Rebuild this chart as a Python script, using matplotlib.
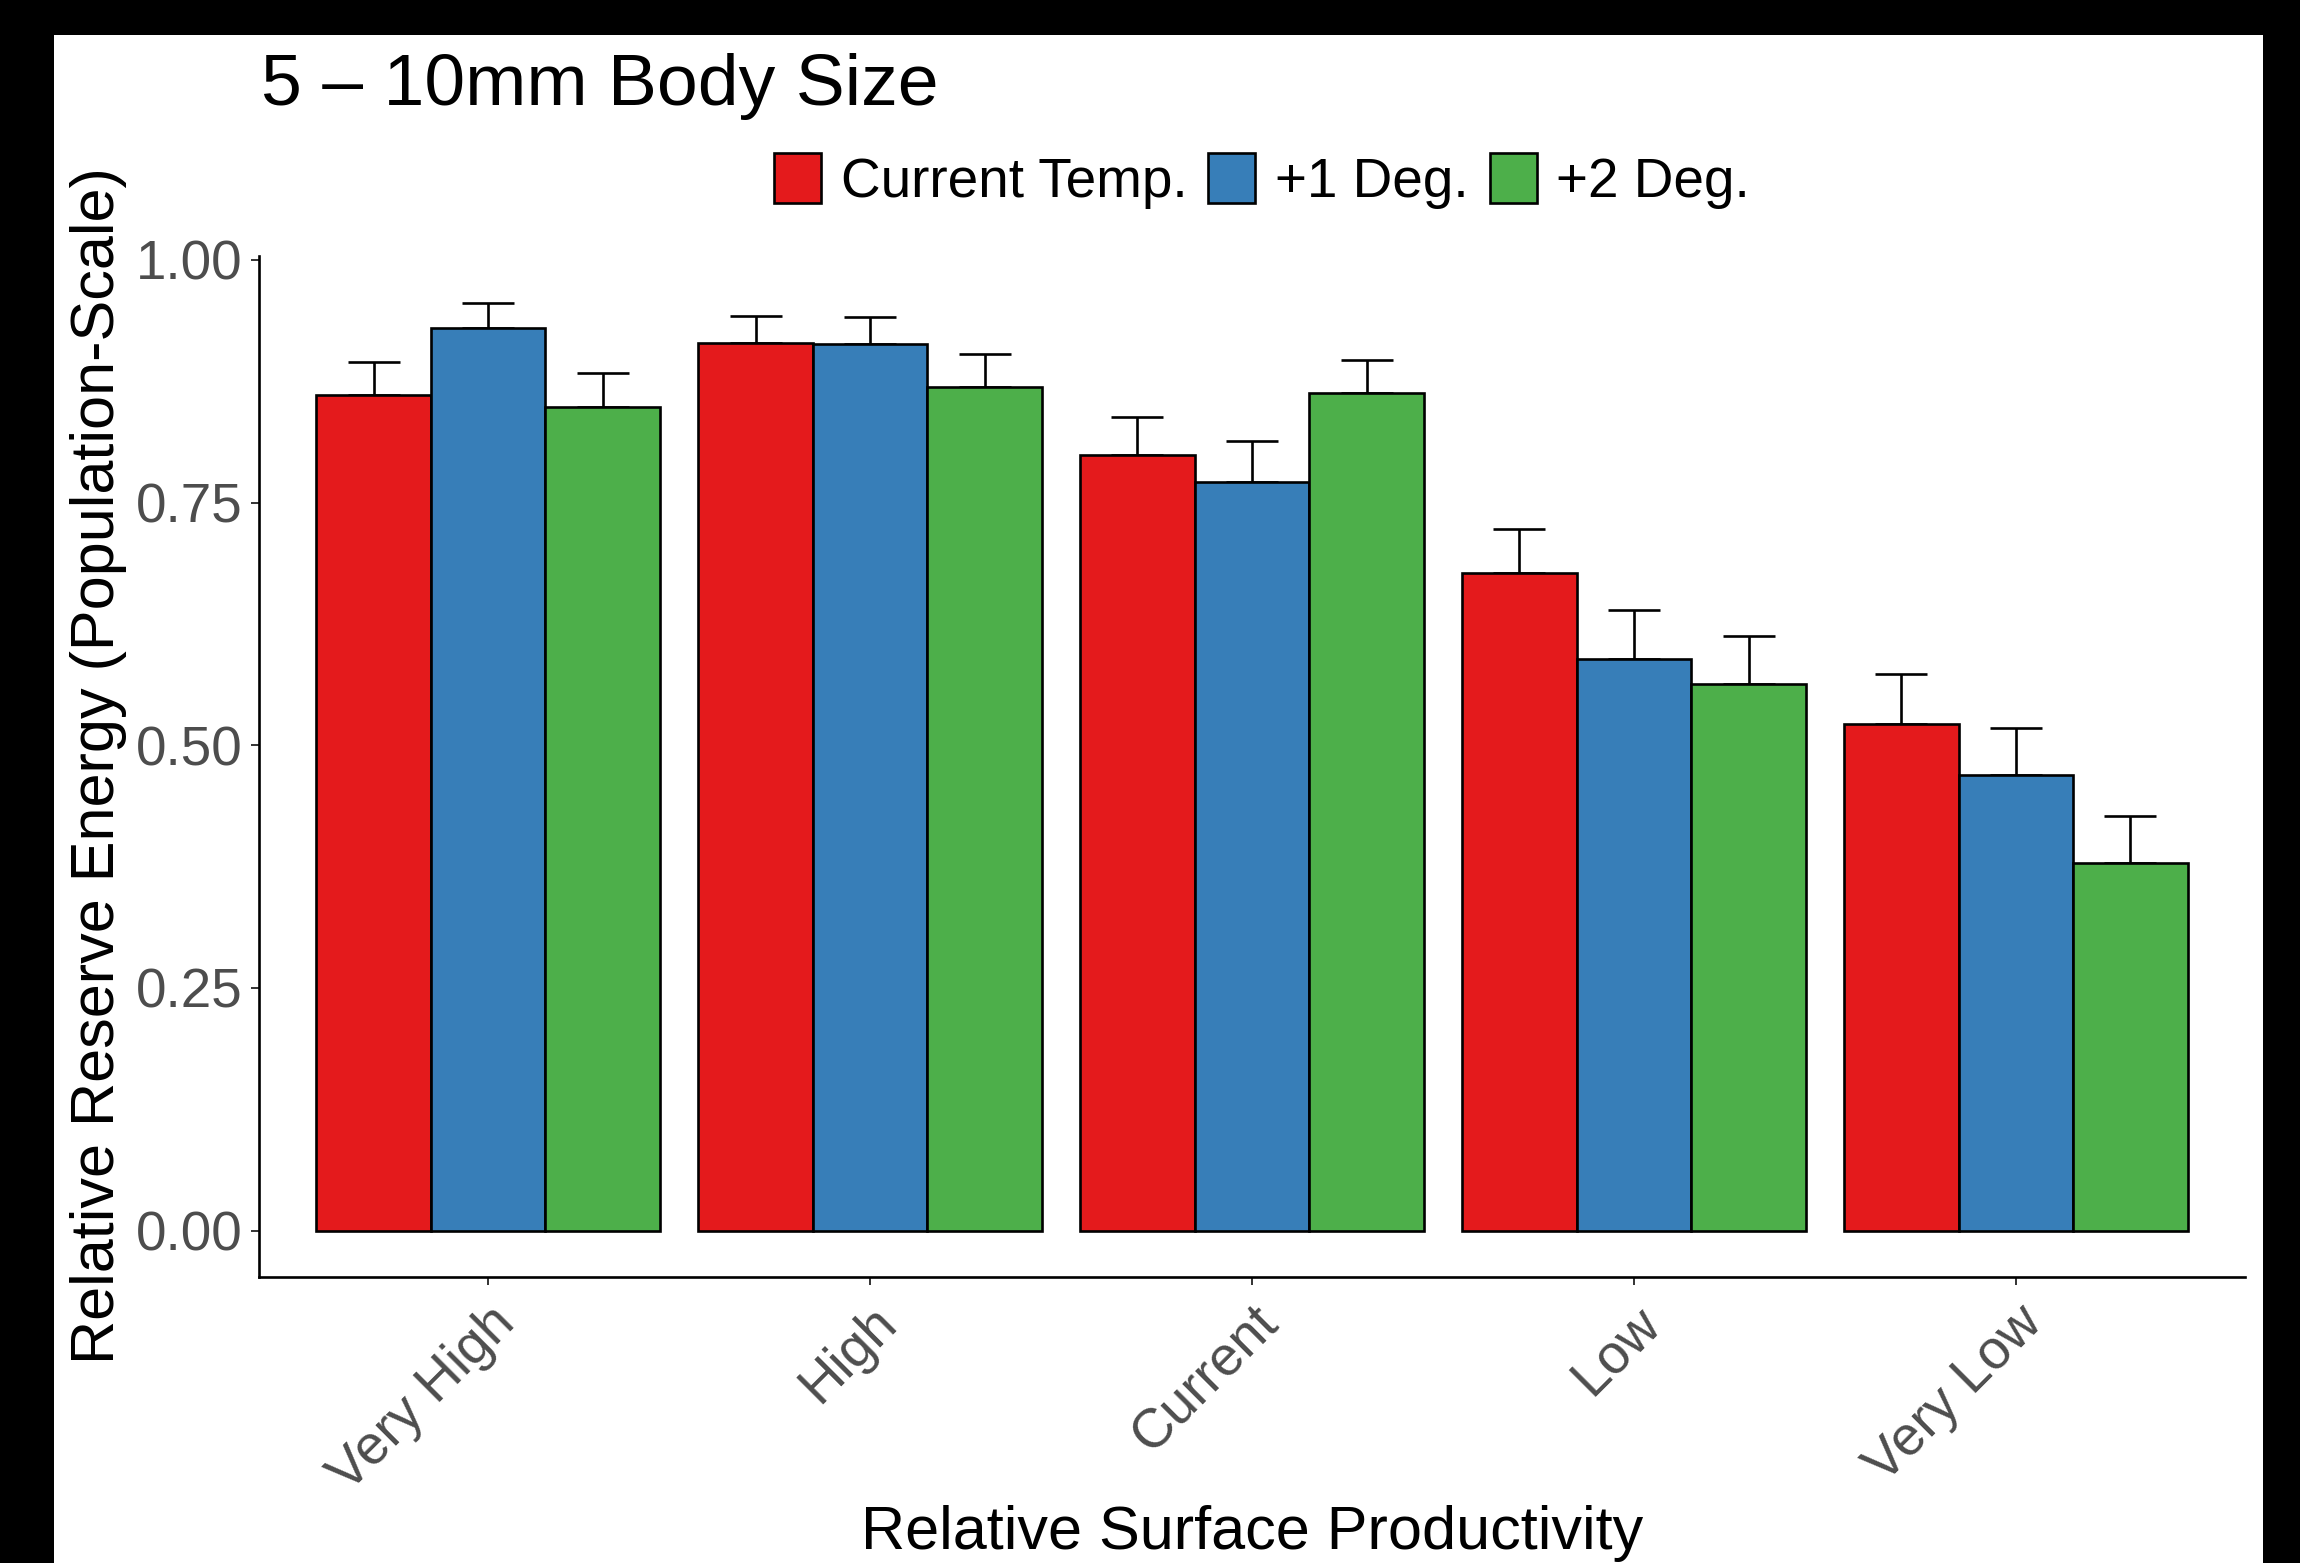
import numpy as np
import matplotlib
matplotlib.use("Agg")
import matplotlib.pyplot as plt
from matplotlib.patches import Rectangle

# ---------------- data ----------------
categories = ["Very High", "High", "Current", "Low", "Very Low"]
series_names = ["Current Temp.", "+1 Deg.", "+2 Deg."]
current_temp = [0.861, 0.914, 0.799, 0.677, 0.522]
current_temp_upper = [0.895, 0.942, 0.838, 0.723, 0.573]
plus1_deg = [0.930, 0.913, 0.771, 0.589, 0.469]
plus1_deg_upper = [0.956, 0.941, 0.813, 0.639, 0.518]
plus2_deg = [0.848, 0.869, 0.863, 0.563, 0.379]
plus2_deg_upper = [0.883, 0.903, 0.897, 0.613, 0.427]
y_ticks = [0.00, 0.25, 0.50, 0.75, 1.00]
y_tick_labels = ["0.00", "0.25", "0.50", "0.75", "1.00"]
colors = ["#E41A1C", "#377EB8", "#4DAF4A"]
title = "5 \u2013 10mm Body Size"
x_title = "Relative Surface Productivity"
y_title = "Relative Reserve Energy (Population-Scale)"

plt.rcParams["font.family"] = ["Liberation Sans", "DejaVu Sans"]

W, H = 2300, 1563
DPI = 100
fig = plt.figure(figsize=(W / DPI, H / DPI), dpi=DPI)
fig.patch.set_facecolor("black")
fig.add_artist(Rectangle((54 / W, 0), (2263 - 54) / W, (H - 35) / H,
                         transform=fig.transFigure, facecolor="white",
                         edgecolor="none", zorder=-10))

ax = fig.add_axes([259 / W, 1 - 1277 / H, (2245 - 259) / W, (1277 - 256) / H])
ax.set_facecolor("none")

x = np.arange(len(categories)) + 1
width = 0.3
offsets = [-width, 0.0, width]
series = [(current_temp, current_temp_upper),
          (plus1_deg, plus1_deg_upper),
          (plus2_deg, plus2_deg_upper)]

lw = 1.9
handles = []
for (vals, upper), off, c, name in zip(series, offsets, colors, series_names):
    vals = np.array(vals)
    upper = np.array(upper)
    ax.errorbar(x + off, vals, yerr=[np.zeros_like(vals), upper - vals],
                fmt="none", ecolor="black", elinewidth=lw, capsize=18.7,
                capthick=lw, zorder=1.5)
    b = ax.bar(x + off, vals, width=width, color=c, edgecolor="black",
               linewidth=lw, label=name, zorder=2)
    handles.append(b)

ax.set_xlim(0.4, 5.6)
ax.set_ylim(-0.0478, 1.004)

for s in ["top", "right"]:
    ax.spines[s].set_visible(False)
for s in ["left", "bottom"]:
    ax.spines[s].set_linewidth(lw)
    ax.spines[s].set_color("black")

tick_fs = 39.5
ax.set_yticks(y_ticks)
ax.set_yticklabels(y_tick_labels, fontsize=tick_fs, color="#4D4D4D")
ax.set_xticks(x)
ax.set_xticklabels(categories, fontsize=tick_fs, color="#4D4D4D", rotation=45,
                   ha="right", va="top", rotation_mode="anchor")
ax.tick_params(axis="both", length=5.8, width=1.4, color="#333333")
ax.tick_params(axis="y", pad=6.0)
ax.tick_params(axis="x", pad=8.5)

fig.legend(handles, series_names, loc="center",
           bbox_to_anchor=(1262 / W, 1 - 181 / H), ncol=3, frameon=False,
           fontsize=tick_fs, handlelength=0.86, handleheight=1.03,
           handletextpad=0.36, columnspacing=0.38, borderpad=0,
           borderaxespad=0)

fig.text(261 / W, 1 - 105 / H, title, fontsize=52.8, ha="left", va="baseline",
         color="black")
fig.text(99 / W, 1 - 766 / H, y_title, fontsize=44, rotation=90,
         ha="center", va="center", color="black")
fig.text(1252 / W, 1 - 1549 / H, x_title, fontsize=44, ha="center",
         va="baseline", color="black")

fig.savefig("out.png", dpi=DPI, facecolor=fig.get_facecolor())
